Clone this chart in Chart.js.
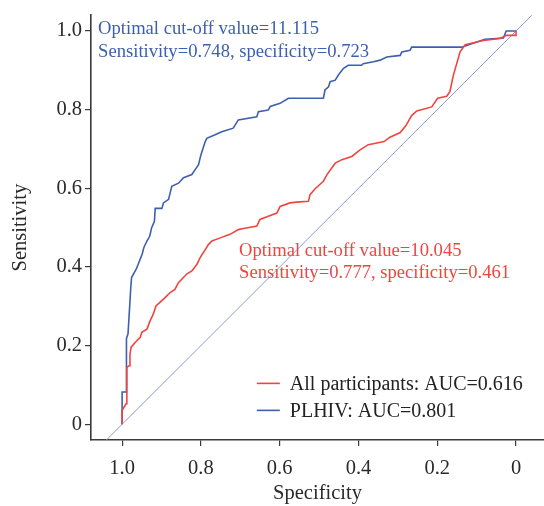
<!DOCTYPE html>
<html>
<head>
<meta charset="utf-8">
<script src="https://cdn.jsdelivr.net/npm/chart.js@4.4.1/dist/chart.umd.min.js"></script>
<style>
html,body{margin:0;padding:0;background:#fff;}
#wrap{width:544px;height:506px;}
</style>
</head>
<body>
<div id="wrap"><canvas id="c" width="544" height="506"></canvas></div>
<script>
// ---- data (specificity, sensitivity) ----
const allSpec = [1.0,1.0,0.995,0.990,0.988,0.982,0.980,0.977,0.967,0.954,0.950,0.937,0.929,0.921,0.914,0.904,0.891,0.878,0.866,0.857,0.836,0.823,0.810,0.802,0.794,0.781,0.772,0.751,0.726,0.705,0.692,0.658,0.650,0.629,0.607,0.599,0.574,0.557,0.527,0.523,0.510,0.489,0.480,0.459,0.442,0.417,0.396,0.375,0.335,0.320,0.294,0.280,0.265,0.252,0.214,0.199,0.176,0.168,0.159,0.142,0.129,0.100,0.083,0.041,0.024,0.0,0.0];
const allSens = [0,0.035,0.044,0.052,0.145,0.149,0.179,0.196,0.208,0.221,0.234,0.242,0.263,0.280,0.301,0.310,0.322,0.335,0.343,0.360,0.382,0.390,0.407,0.424,0.436,0.457,0.466,0.474,0.483,0.495,0.498,0.504,0.521,0.529,0.537,0.554,0.563,0.565,0.567,0.584,0.599,0.618,0.635,0.664,0.673,0.681,0.698,0.711,0.719,0.730,0.742,0.759,0.785,0.797,0.807,0.829,0.834,0.846,0.888,0.947,0.965,0.972,0.976,0.981,0.989,0.989,1.0];
const hivSpec = [1.0,1.0,0.990,0.990,0.988,0.985,0.978,0.976,0.964,0.949,0.945,0.937,0.930,0.925,0.918,0.916,0.899,0.895,0.882,0.874,0.857,0.844,0.823,0.815,0.806,0.800,0.789,0.785,0.764,0.747,0.718,0.705,0.658,0.654,0.629,0.624,0.599,0.578,0.489,0.485,0.476,0.472,0.459,0.451,0.438,0.426,0.392,0.388,0.362,0.345,0.328,0.294,0.290,0.269,0.265,0.138,0.079,0.032,0.025,0.0];
const hivSens = [0,0.082,0.082,0.137,0.218,0.230,0.348,0.373,0.395,0.433,0.449,0.466,0.478,0.500,0.516,0.549,0.549,0.563,0.572,0.605,0.613,0.627,0.635,0.647,0.660,0.685,0.719,0.727,0.736,0.744,0.753,0.774,0.782,0.795,0.799,0.808,0.816,0.829,0.829,0.850,0.858,0.871,0.875,0.888,0.905,0.913,0.913,0.917,0.922,0.926,0.934,0.938,0.947,0.951,0.959,0.959,0.979,0.982,1.0,1.0];
const refLine = [[1.2,-0.2],[-0.2,1.2]];
const xTicks = [1.0,0.8,0.6,0.4,0.2,0];
const xTickLabels = ["1.0","0.8","0.6","0.4","0.2","0"];
const yTicks = [0,0.2,0.4,0.6,0.8,1.0];
const yTickLabels = ["0","0.2","0.4","0.6","0.8","1.0"];
const seriesNames = ["All participants: AUC=0.616","PLHIV: AUC=0.801"];
const blueNote = ["Optimal cut-off value=11.115","Sensitivity=0.748, specificity=0.723"];
const redNote = ["Optimal cut-off value=10.045","Sensitivity=0.777, specificity=0.461"];

const RED = '#F0453F', BLUE = '#3D5FB0', DIAG = '#8D98D8', AX = '#3a3a3a';
const FONT = '"Liberation Serif","Times New Roman",serif';

const toPts = (xs, ys) => xs.map((x, i) => ({x: x, y: ys[i]}));

const notes = {
  id: 'notes',
  afterDatasetsDraw(chart) {
    const ctx = chart.ctx, xs = chart.scales.x, ys = chart.scales.y;
    ctx.save();
    ctx.font = '18.6px ' + FONT;
    ctx.textAlign = 'left';
    ctx.textBaseline = 'alphabetic';
    ctx.fillStyle = BLUE;
    let x = xs.getPixelForValue(1.061), y = ys.getPixelForValue(0.992);
    ctx.fillText(blueNote[0], x, y);
    ctx.fillText(blueNote[1], x, y + 23);
    ctx.fillStyle = RED;
    x = xs.getPixelForValue(0.703); y = ys.getPixelForValue(0.428);
    ctx.fillText(redNote[0], x, y);
    ctx.fillText(redNote[1], x, y + 22);
    // legend
    const lx = xs.getPixelForValue(0.658), ly = ys.getPixelForValue(0.104);
    const cols = [RED, BLUE];
    ctx.font = '20px ' + FONT;
    ctx.lineWidth = 1.6;
    for (let i = 0; i < 2; i++) {
      const yy = ly + i * 27;
      ctx.strokeStyle = cols[i];
      ctx.beginPath(); ctx.moveTo(lx, yy); ctx.lineTo(lx + 23, yy); ctx.stroke();
      ctx.fillStyle = '#222';
      ctx.fillText(seriesNames[i], lx + 33, yy + 7);
    }
    ctx.restore();
  }
};

new Chart(document.getElementById('c'), {
  type: 'scatter',
  data: {
    datasets: [
      {label: seriesNames[0], data: toPts(allSpec, allSens), showLine: true, borderColor: RED, borderWidth: 1.6, pointRadius: 0, tension: 0},
      {label: seriesNames[1], data: toPts(hivSpec, hivSens), showLine: true, borderColor: BLUE, borderWidth: 1.6, pointRadius: 0, tension: 0},
      {label: 'ref', data: refLine.map(p => ({x: p[0], y: p[1]})), showLine: true, borderColor: DIAG, borderWidth: 1, pointRadius: 0}
    ]
  },
  options: {
    responsive: false,
    animation: false,
    devicePixelRatio: 1,
    layout: {padding: {left: 0, right: 0, top: 13, bottom: 0}},
    plugins: {legend: {display: false}, tooltip: {enabled: false}},
    scales: {
      x: {
        type: 'linear', reverse: true, min: -0.071, max: 1.079,
        afterBuildTicks: s => { s.ticks = xTicks.map(v => ({value: v})); },
        afterFit: s => { s.height = 66; },
        ticks: {
          callback: (v) => { const i = xTicks.findIndex(t => Math.abs(t - v) < 1e-9); return i >= 0 ? xTickLabels[i] : ''; },
          font: {family: FONT, size: 20.5}, color: '#2a2a2a', padding: 10, maxRotation: 0, autoSkip: false
        },
        grid: {display: true, drawOnChartArea: false, drawTicks: true, tickLength: 6, color: AX, lineWidth: 1.2},
        border: {display: true, color: AX, width: 1.6},
        title: {display: true, text: 'Specificity', font: {family: FONT, size: 20.5}, color: '#2a2a2a', padding: {top: 0, bottom: 0}}
      },
      y: {
        type: 'linear', min: -0.04, max: 1.04,
        afterBuildTicks: s => { s.ticks = yTicks.map(v => ({value: v})); },
        afterFit: s => { s.width = 91; },
        ticks: {
          callback: (v) => { const i = yTicks.findIndex(t => Math.abs(t - v) < 1e-9); return i >= 0 ? yTickLabels[i] : ''; },
          font: {family: FONT, size: 20.5}, color: '#2a2a2a', padding: 3, autoSkip: false
        },
        grid: {display: true, drawOnChartArea: false, drawTicks: true, tickLength: 6, color: AX, lineWidth: 1.2},
        border: {display: true, color: AX, width: 1.6},
        title: {display: true, text: 'Sensitivity', font: {family: FONT, size: 20.5}, color: '#2a2a2a', padding: {top: 8, bottom: 0}}
      }
    }
  },
  plugins: [notes]
});
</script>
</body>
</html>
